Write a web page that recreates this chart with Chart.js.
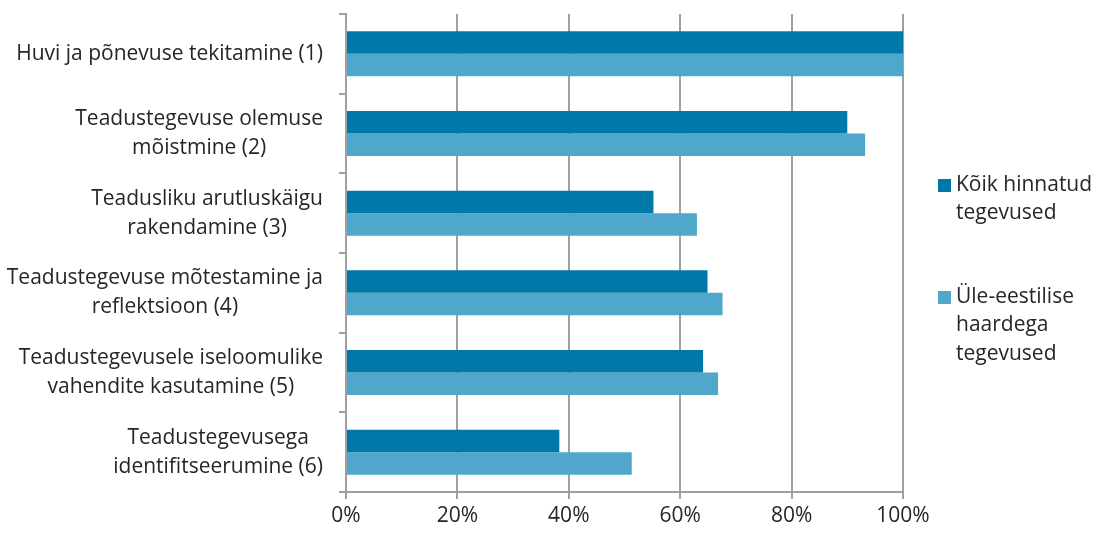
<!DOCTYPE html>
<html>
<head>
<meta charset="utf-8">
<script src="https://cdn.jsdelivr.net/npm/chart.js@4"></script>
<style>
  html, body { margin: 0; padding: 0; background: #fff; }
  #wrap { width: 1095px; height: 534px; }
</style>
</head>
<body>
<div id="wrap"><canvas id="myChart" width="1095" height="534"></canvas></div>
<script>
// Data
const categories = [
  ['Huvi ja põnevuse tekitamine (1)'],
  ['Teadustegevuse olemuse', 'mõistmine (2)'],
  ['Teadusliku arutluskäigu', 'rakendamine (3)'],
  ['Teadustegevuse mõtestamine ja', 'reflektsioon (4)'],
  ['Teadustegevusele iseloomulike', 'vahendite kasutamine (5)'],
  ['Teadustegevusega', 'identifitseerumine (6)']
];
const seriesNames = [
  ['Kõik hinnatud', 'tegevused'],
  ['Üle-eestilise', 'haardega', 'tegevused']
];
const allActivities = [100, 90, 55.2, 64.9, 64.1, 38.3];
const nationalActivities = [100, 93.2, 63, 67.6, 66.8, 51.3];
const xTicks = [0, 20, 40, 60, 80, 100];

const FONT = '"Open Sans", Lato, sans-serif';
const TEXT = '#262626';
const GRID = '#a0a0a0';

// Draws the category labels (lines centred on each other, block right-aligned)
const yLabelPlugin = {
  id: 'yLabels',
  afterDraw(chart) {
    const ctx = chart.ctx;
    const y = chart.scales.y;
    const right = 323, lineH = 29;
    ctx.save();
    ctx.font = '21px ' + FONT;
    ctx.fillStyle = TEXT;
    ctx.textAlign = 'center';
    ctx.textBaseline = 'middle';
    categories.forEach((lines, i) => {
      const w = Math.max(...lines.map(l => ctx.measureText(l).width));
      const cx = right - w / 2;
      const cy = y.getPixelForValue(i) - (lines.length - 1) * lineH / 2;
      lines.forEach((l, j) => ctx.fillText(l, cx, cy + j * lineH));
    });
    ctx.restore();
  }
};

// Legend on the right with wrapped labels
const legendPlugin = {
  id: 'sideLegend',
  afterDraw(chart) {
    const ctx = chart.ctx;
    const starts = [185, 297];
    const lineH = 28.5;
    ctx.save();
    ctx.font = '21px ' + FONT;
    ctx.textBaseline = 'middle';
    ctx.textAlign = 'left';
    chart.data.datasets.forEach((ds, i) => {
      ctx.fillStyle = ds.backgroundColor;
      ctx.fillRect(938, starts[i] - 6, 13, 13);
      ctx.fillStyle = TEXT;
      seriesNames[i].forEach((l, j) => ctx.fillText(l, 956, starts[i] + j * lineH));
    });
    ctx.restore();
  }
};

const ctx = document.getElementById('myChart').getContext('2d');
const myChart = new Chart(ctx, {
  type: 'bar',
  data: {
    labels: categories.map(c => c.join(' ')),
    datasets: [
      {
        label: seriesNames[0].join(' '),
        data: allActivities,
        backgroundColor: '#0079a8',
        barPercentage: 1,
        categoryPercentage: 0.565
      },
      {
        label: seriesNames[1].join(' '),
        data: nationalActivities,
        backgroundColor: '#4fa8cb',
        barPercentage: 1,
        categoryPercentage: 0.565
      }
    ]
  },
  options: {
    indexAxis: 'y',
    responsive: false,
    animation: false,
    layout: { padding: { left: 0, right: 192, top: 14, bottom: 0 } },
    plugins: {
      legend: { display: false },
      tooltip: { enabled: false }
    },
    scales: {
      x: {
        min: 0,
        max: 100,
        afterBuildTicks: scale => { scale.ticks = xTicks.map(v => ({ value: v })); },
        afterFit: scale => { scale.height = 42; },
        grid: { color: GRID, lineWidth: 2, tickLength: 7 },
        border: { color: GRID, width: 2 },
        ticks: {
          color: TEXT,
          font: { family: FONT, size: 21 },
          padding: 4,
          callback: v => v + '%'
        }
      },
      y: {
        afterFit: scale => { scale.width = 346; },
        grid: { offset: true, drawOnChartArea: false, color: GRID, lineWidth: 2, tickLength: 7 },
        border: { color: GRID, width: 2 },
        ticks: { display: false }
      }
    }
  },
  plugins: [yLabelPlugin, legendPlugin]
});
</script>
</body>
</html>
